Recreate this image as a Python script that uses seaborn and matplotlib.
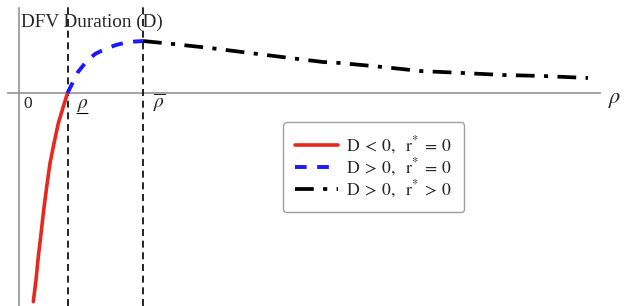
import matplotlib
matplotlib.use("Agg")
import numpy as np
import pandas as pd
import matplotlib.pyplot as plt
import seaborn as sns

# ---- data (arbitrary units) ----
rho_red = [0.143, 0.17, 0.193, 0.217, 0.243, 0.277, 0.31, 0.35, 0.393, 0.443, 0.485]
D_red = [-2.087, -1.87, -1.637, -1.437, -1.203, -0.937, -0.703, -0.503, -0.303, -0.137, 0.0]

rho_blue = [0.485, 0.54, 0.59, 0.67, 0.76, 0.86, 0.97, 1.09, 1.24]
D_blue = [0.0, 0.11, 0.21, 0.31, 0.39, 0.44, 0.48, 0.51, 0.52]

rho_black = [1.24, 1.54, 1.91, 2.31, 2.71, 3.04, 3.21, 3.64, 4.01, 4.44, 4.84, 5.24, 5.69]
D_black = [0.52, 0.49, 0.45, 0.40, 0.35, 0.31, 0.30, 0.26, 0.22, 0.20, 0.18, 0.17, 0.15]

rho_lo = 0.485   # underline rho
rho_hi = 1.24    # overline rho

labels = [r"$\mathrm{D}\:<\:0,\ \ \mathrm{r}^{*}\:=\:0$",
          r"$\mathrm{D}\:>\:0,\ \ \mathrm{r}^{*}\:=\:0$",
          r"$\mathrm{D}\:>\:0,\ \ \mathrm{r}^{*}\:>\:0$"]

# ---- style ----
sns.set_style("white")
plt.rcParams["font.family"] = ["Liberation Serif", "DejaVu Serif"]
plt.rcParams["mathtext.fontset"] = "stix"

RED = "#e8281e"
BLUE = "#1a1aff"
GREY = "#8c8c8c"

fig = plt.figure(figsize=(6.24, 3.06), dpi=100)
ax = fig.add_axes([0, 0, 1, 1])

df_red = pd.DataFrame({"rho": rho_red, "D": D_red})
df_blue = pd.DataFrame({"rho": rho_blue, "D": D_blue})
df_black = pd.DataFrame({"rho": rho_black, "D": D_black})

sns.lineplot(data=df_red, x="rho", y="D", color=RED, lw=2.6, ax=ax,
             estimator=None, sort=False, zorder=4)
sns.lineplot(data=df_blue, x="rho", y="D", color=BLUE, lw=2.8, ax=ax,
             estimator=None, sort=False, linestyle=(0, (3.0, 2.7)), zorder=4)
sns.lineplot(data=df_black, x="rho", y="D", color="black", lw=2.7, ax=ax,
             estimator=None, sort=False, linestyle=(0, (5, 2.5, 1.1, 2.5)), zorder=4)
curve_lines = ax.lines[-3:]

ax.set_xlim(-0.19, 6.05)
ax.set_ylim(-2.13, 0.93)

# vertical dashed guides
for r in (rho_lo, rho_hi):
    ax.axvline(r, ymin=0, ymax=0.984, color="black", lw=1.2,
               linestyle=(0, (4.2, 2.8)), zorder=3)

# axes through the origin
for s in ("top", "right"):
    ax.spines[s].set_visible(False)
ax.spines["left"].set_position(("data", 0))
ax.spines["bottom"].set_position(("data", 0))
ax.spines["left"].set_bounds(-2.13, 0.85)
ax.spines["bottom"].set_bounds(-0.11, 5.81)
for s in ("left", "bottom"):
    ax.spines[s].set_color(GREY)
    ax.spines[s].set_linewidth(1.1)
ax.set_xticks([])
ax.set_yticks([])
ax.set_xlabel("")
ax.set_ylabel("")

# texts
ax.text(0.02, 0.663, "DFV Duration (D)", fontsize=13.8, va="baseline", ha="left", zorder=5)
ax.text(0.04, -0.15, "0", fontsize=12.5, va="baseline", ha="left")
ax.text(0.58, -0.15, r"$\rho$", fontsize=14, va="baseline", ha="left")
ax.annotate("", xy=(0.58, -0.205), xytext=(0.69, -0.205),
            arrowprops=dict(arrowstyle="-", color="black", lw=0.8,
                            shrinkA=0, shrinkB=0))
ax.text(1.34, -0.15, r"$\overline{\rho}$", fontsize=14, va="baseline", ha="left")
ax.text(5.89, -0.07, r"$\rho$", fontsize=16, va="center", ha="left")

leg = ax.legend(curve_lines, labels, loc="upper left",
                bbox_to_anchor=(283 / 624, 1 - 122 / 306), bbox_transform=fig.transFigure,
                borderaxespad=0, fontsize=12.7, handlelength=2.4, handletextpad=0.45,
                borderpad=0.7, labelspacing=0.0, frameon=True, fancybox=True,
                edgecolor="#a0a0a0", framealpha=1)
leg.get_frame().set_linewidth(1.0)

fig.savefig("out.png", dpi=100)
